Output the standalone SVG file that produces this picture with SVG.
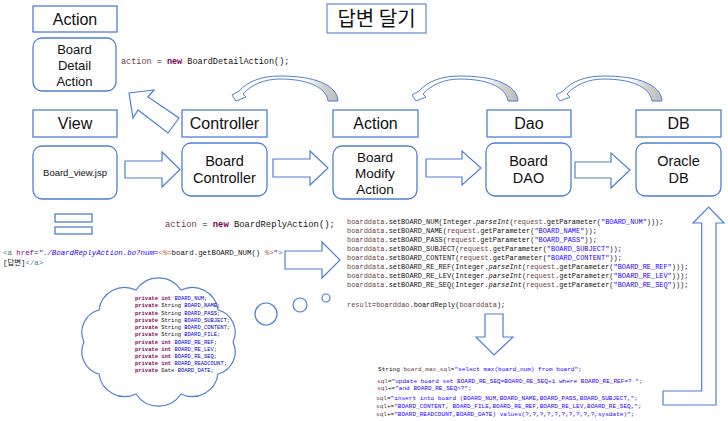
<svg xmlns="http://www.w3.org/2000/svg" width="728" height="421" viewBox="0 0 728 421">
<defs>
<style>
.hdr{fill:#fff;stroke:#4f7fd3;stroke-width:1.3}
.nd{fill:#fff;stroke:#4f7fd3;stroke-width:1.3}
.ht{font-family:"Liberation Sans","Noto Sans",sans-serif;font-size:16px;fill:#111;text-anchor:middle}
.nt{font-family:"Liberation Sans","Noto Sans",sans-serif;fill:#111;text-anchor:middle}
.ba{fill:#fff;stroke:#4f7fd3;stroke-width:1.2;stroke-linejoin:miter}
.code{font-family:"Liberation Mono","DejaVu Sans Mono","Noto Sans CJK KR",monospace;fill:#111}
.v{fill:#6a3e3e}
.s{fill:#2a00ff}
.k{fill:#7f0055;font-weight:bold}
.f{fill:#0000c0}
.t{fill:#3f7f7f}
.a{fill:#7f007f}
.j{fill:#bf5f3f}
.i{font-style:italic}
</style>
<linearGradient id="cg" x1="0" y1="0" x2="1" y2="0">
<stop offset="0" stop-color="#fff"/>
<stop offset="0.7" stop-color="#fff"/>
<stop offset="0.86" stop-color="#d0d0d0"/>
<stop offset="1" stop-color="#bcbcbc"/>
</linearGradient>
<path id="curv" d="M328,101 C326,86 305,79 280,79 C264,79 251,85 243,94 L246,97 L236,101 L232,95 L239,91 C248,81 262,76 280,76 C313,76 337,84 338,101 Z" fill="url(#cg)" stroke="#4f7fd3" stroke-width="1"/>
</defs>
<rect width="728" height="421" fill="#fff"/>

<g id="title">
<rect x="327" y="4" width="99" height="29" fill="#fff" stroke="#6f93d8" stroke-width="1.3"/>
<text x="376.5" y="26" font-family="'Noto Sans CJK KR','Noto Sans',sans-serif" font-size="20" fill="#111" text-anchor="middle">답변 달기</text>
</g>

<g id="hdr-action1"><rect class="hdr" x="33" y="6" width="84" height="26"/><text class="ht" x="75" y="24.5">Action</text></g>
<g id="node-detail"><rect class="nd" x="33" y="38" width="83" height="53" rx="9"/>
<text class="nt" font-size="13" x="74.5" y="53.5">Board</text><text class="nt" font-size="13" x="74.5" y="69.5">Detail</text><text class="nt" font-size="13" x="74.5" y="85.5">Action</text></g>

<g id="hdr-view"><rect class="hdr" x="33" y="110" width="84" height="27"/><text class="ht" x="75" y="129">View</text></g>
<g id="node-view"><rect class="nd" x="33" y="146" width="84" height="53" rx="9"/><text class="nt" font-size="9.5" x="75" y="176.3">Board_view.jsp</text></g>

<g id="hdr-controller"><rect class="hdr" x="182" y="110" width="85" height="27"/><text class="ht" x="224.5" y="129">Controller</text></g>
<g id="node-controller"><rect class="nd" x="182" y="143" width="85" height="53" rx="9"/>
<text class="nt" font-size="14.5" x="224.5" y="166">Board</text><text class="nt" font-size="14.5" x="224.5" y="183">Controller</text></g>

<g id="hdr-action2"><rect class="hdr" x="333" y="110" width="85" height="27"/><text class="ht" x="375.5" y="129">Action</text></g>
<g id="node-modify"><rect class="nd" x="333" y="146" width="84" height="53" rx="9"/>
<text class="nt" font-size="13.5" x="375" y="161.7">Board</text><text class="nt" font-size="13.5" x="375" y="177.7">Modify</text><text class="nt" font-size="13.5" x="375" y="194.2">Action</text></g>

<g id="hdr-dao"><rect class="hdr" x="487" y="110" width="84" height="27"/><text class="ht" x="529" y="129">Dao</text></g>
<g id="node-dao"><rect class="nd" x="486" y="143" width="85" height="53" rx="9"/>
<text class="nt" font-size="14.5" x="528.5" y="166">Board</text><text class="nt" font-size="14.5" x="528.5" y="183">DAO</text></g>

<g id="hdr-db"><rect class="hdr" x="636" y="110" width="85" height="27"/><text class="ht" x="678.5" y="129">DB</text></g>
<g id="node-db"><rect class="nd" x="636" y="143" width="85" height="53" rx="9"/>
<text class="nt" font-size="14.5" x="678.5" y="166">Oracle</text><text class="nt" font-size="14.5" x="678.5" y="183">DB</text></g>

<g id="connectors">
<polygon class="ba" points="125,161 162,161 162,152 180,169.5 162,187 162,178 125,178"/>
<polygon class="ba" points="273,159 310,159 310,151 328,168 310,185 310,177 273,177"/>
<polygon class="ba" points="426,159 462,159 462,151 481,168 462,185 462,177 426,177"/>
<polygon class="ba" points="575,162 611,162 611,153 630,170 611,188 611,178 575,178"/>
<polygon class="ba" points="129,93 154,90 148,97 179,118 168,133 138,110 133,118"/>
<polygon class="ba" points="285,251 322,251 322,242 340,260 322,278 322,269 285,269"/>
<polygon class="ba" points="485,314 503,314 503,337 513,337 494,355 476,337 485,337"/>
<polygon class="ba" points="663,391 701.7,391 701.7,223 693,223 708.7,207 724,223 716,223 716,405 663,405"/>
<use href="#curv"/>
<use href="#curv" transform="translate(180,0)"/>
<use href="#curv" transform="translate(324,0)"/>
<rect x="55" y="214" width="37" height="8" fill="none" stroke="#4f7fd3" stroke-width="1.3"/>
<rect x="55" y="227" width="37" height="7" fill="none" stroke="#4f7fd3" stroke-width="1.3"/>
</g>

<g id="code-detail"><text class="code" font-size="8.5" x="121" y="64"><tspan class="v">action</tspan> = <tspan class="k">new</tspan> BoardDetailAction();</text></g>
<g id="code-reply"><text class="code" font-size="8.85" x="165" y="227"><tspan class="v">action</tspan> = <tspan class="k">new</tspan> BoardReplyAction();</text></g>

<g id="code-href" class="code" font-size="7.4">
<text x="3" y="255"><tspan class="t">&lt;a</tspan> <tspan class="a">href</tspan>=<tspan class="s i">"./BoardReplyAction.bo?num=</tspan><tspan class="j">&lt;%=</tspan>board.getBOARD_NUM() <tspan class="j">%&gt;</tspan><tspan class="s">"</tspan><tspan class="t">&gt;</tspan></text>
<text x="3" y="264.5">[답변]<tspan class="t">&lt;/a&gt;</tspan></text>
</g>

<g id="code-set" class="code" font-size="6.95">
<text x="347" y="223.5"><tspan class="v">boarddata</tspan>.setBOARD_NUM(Integer.<tspan class="i">parseInt</tspan>(<tspan class="v">request</tspan>.getParameter(<tspan class="s">"BOARD_NUM"</tspan>)));</text>
<text x="347" y="232.5"><tspan class="v">boarddata</tspan>.setBOARD_NAME(<tspan class="v">request</tspan>.getParameter(<tspan class="s">"BOARD_NAME"</tspan>));</text>
<text x="347" y="241.5"><tspan class="v">boarddata</tspan>.setBOARD_PASS(<tspan class="v">request</tspan>.getParameter(<tspan class="s">"BOARD_PASS"</tspan>));</text>
<text x="347" y="250.5"><tspan class="v">boarddata</tspan>.setBOARD_SUBJECT(<tspan class="v">request</tspan>.getParameter(<tspan class="s">"BOARD_SUBJECT"</tspan>));</text>
<text x="347" y="259.5"><tspan class="v">boarddata</tspan>.setBOARD_CONTENT(<tspan class="v">request</tspan>.getParameter(<tspan class="s">"BOARD_CONTENT"</tspan>));</text>
<text x="347" y="268.5"><tspan class="v">boarddata</tspan>.setBOARD_RE_REF(Integer.<tspan class="i">parseInt</tspan>(<tspan class="v">request</tspan>.getParameter(<tspan class="s">"BOARD_RE_REF"</tspan>)));</text>
<text x="347" y="277.5"><tspan class="v">boarddata</tspan>.setBOARD_RE_LEV(Integer.<tspan class="i">parseInt</tspan>(<tspan class="v">request</tspan>.getParameter(<tspan class="s">"BOARD_RE_LEV"</tspan>)));</text>
<text x="347" y="286.5"><tspan class="v">boarddata</tspan>.setBOARD_RE_SEQ(Integer.<tspan class="i">parseInt</tspan>(<tspan class="v">request</tspan>.getParameter(<tspan class="s">"BOARD_RE_SEQ"</tspan>)));</text>
<text x="347" y="306.5"><tspan class="v">result</tspan>=<tspan class="v">boarddao</tspan>.boardReply(<tspan class="v">boarddata</tspan>);</text>
</g>

<g id="cloud">
<path d="M233,342 A23,23 0 0 1 218,374 A26,26 0 0 1 181,394 A27,27 0 0 1 136,394 A26,26 0 0 1 99,374 A23,23 0 0 1 84,342 A23,23 0 0 1 99,310 A26,26 0 0 1 136,290 A27,27 0 0 1 181,290 A26,26 0 0 1 218,310 A23,23 0 0 1 233,342 Z" fill="#fff" stroke="#4f7fd3" stroke-width="1.2"/>
<circle cx="266" cy="314" r="11" fill="#fff" stroke="#4f7fd3" stroke-width="1.2"/>
<circle cx="300" cy="305" r="7" fill="#fff" stroke="#4f7fd3" stroke-width="1.2"/>
<circle cx="326" cy="298" r="4" fill="#fff" stroke="#4f7fd3" stroke-width="1.2"/>
<g class="code" font-size="5.47">
<text x="135" y="300"><tspan class="k">private</tspan> <tspan class="k">int</tspan> <tspan class="f">BOARD_NUM</tspan>;</text>
<text x="135" y="307.3"><tspan class="k">private</tspan> String <tspan class="f">BOARD_NAME</tspan>;</text>
<text x="135" y="314.5"><tspan class="k">private</tspan> String <tspan class="f">BOARD_PASS</tspan>;</text>
<text x="135" y="322"><tspan class="k">private</tspan> String <tspan class="f">BOARD_SUBJECT</tspan>;</text>
<text x="135" y="329"><tspan class="k">private</tspan> String <tspan class="f">BOARD_CONTENT</tspan>;</text>
<text x="135" y="336.3"><tspan class="k">private</tspan> String <tspan class="f">BOARD_FILE</tspan>;</text>
<text x="135" y="343.7"><tspan class="k">private</tspan> <tspan class="k">int</tspan> <tspan class="f">BOARD_RE_REF</tspan>;</text>
<text x="135" y="351"><tspan class="k">private</tspan> <tspan class="k">int</tspan> <tspan class="f">BOARD_RE_LEV</tspan>;</text>
<text x="135" y="358"><tspan class="k">private</tspan> <tspan class="k">int</tspan> <tspan class="f">BOARD_RE_SEQ</tspan>;</text>
<text x="135" y="365.3"><tspan class="k">private</tspan> <tspan class="k">int</tspan> <tspan class="f">BOARD_READCOUNT</tspan>;</text>
<text x="135" y="372.3"><tspan class="k">private</tspan> Date <tspan class="f">BOARD_DATE</tspan>;</text>
</g>
</g>

<g id="code-sql" class="code" font-size="6.07">
<text x="378" y="371">String <tspan class="v">board_max_sql</tspan>=<tspan class="s">"select max(board_num) from board"</tspan>;</text>
<text x="377" y="383"><tspan class="v">sql</tspan>=<tspan class="s">"update board set BOARD_RE_SEQ=BOARD_RE_SEQ+1 where BOARD_RE_REF=? "</tspan>;</text>
<text x="377" y="389.5"><tspan class="v">sql</tspan>+=<tspan class="s">"and BOARD_RE_SEQ&gt;?"</tspan>;</text>
<text x="376" y="400"><tspan class="v">sql</tspan>=<tspan class="s">"insert into board (BOARD_NUM,BOARD_NAME,BOARD_PASS,BOARD_SUBJECT,"</tspan>;</text>
<text x="376" y="408"><tspan class="v">sql</tspan>+=<tspan class="s">"BOARD_CONTENT, BOARD_FILE,BOARD_RE_REF,BOARD_RE_LEV,BOARD_RE_SEQ,"</tspan>;</text>
<text x="376" y="415.5"><tspan class="v">sql</tspan>+=<tspan class="s">"BOARD_READCOUNT,BOARD_DATE) values(?,?,?,?,?,?,?,?,?,?,sysdate)"</tspan>;</text>
</g>
</svg>
